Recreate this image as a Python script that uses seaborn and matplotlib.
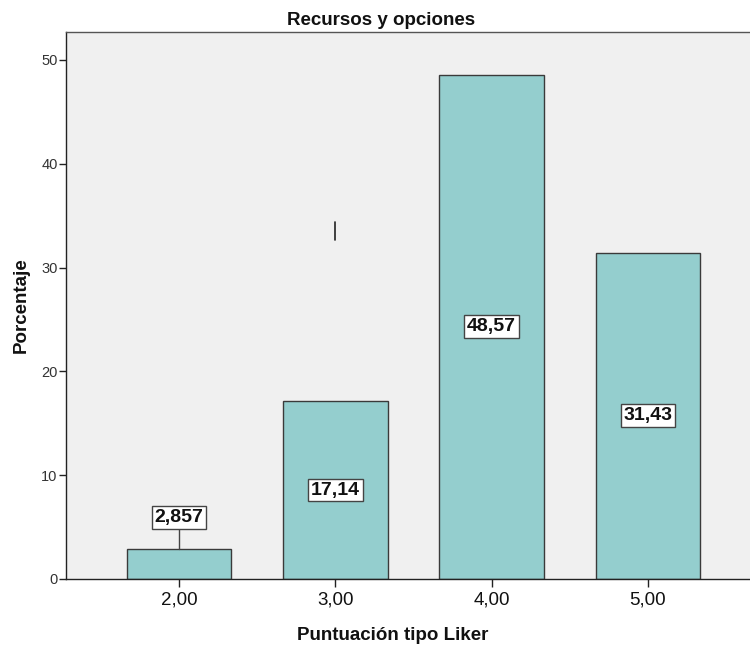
import matplotlib
matplotlib.use("Agg")
import matplotlib.pyplot as plt
import seaborn as sns
import pandas as pd

categories = ["2,00", "3,00", "4,00", "5,00"]
values = [2.857, 17.14, 48.57, 31.43]
value_labels = ["2,857", "17,14", "48,57", "31,43"]
y_ticks = [0, 10, 20, 30, 40, 50]
title = "Recursos y opciones"
x_title = "Puntuación tipo Liker"
y_title = "Porcentaje"

sns.set_theme(style="white")
plt.rcParams['font.family'] = ['Liberation Sans', 'DejaVu Sans']

df = pd.DataFrame({"cat": categories, "val": values})

fig = plt.figure(figsize=(7.5, 6.52), dpi=100)
ax = fig.add_axes([0.088, 0.112, 0.912, 0.839])
ax.set_facecolor("#f0f0f0")

sns.barplot(data=df, x="cat", y="val", order=categories, color="#94cece",
            edgecolor="#3a3a3a", linewidth=1.0, width=0.67, saturation=1, ax=ax)

ax.set_xlim(-0.723, 3.653)
ax.set_ylim(0, 52.7)
ax.set_yticks(y_ticks)
ax.set_yticklabels([str(t) for t in y_ticks], fontsize=10.5, color="#333333")
ax.tick_params(axis="y", length=5, width=1, color="#222222", direction="out", left=True, pad=1)
ax.tick_params(axis="x", length=6, width=1, color="#222222", direction="out", bottom=True, pad=3)
for lbl in ax.get_xticklabels():
    lbl.set_fontsize(13.5)
    lbl.set_color("#111111")

ax.spines["right"].set_visible(False)
for side in ["left", "bottom", "top"]:
    ax.spines[side].set_visible(True)
    ax.spines[side].set_color("#222222")
    ax.spines[side].set_linewidth(1.0)
ax.spines["top"].set_color("#555555")

ax.set_xlabel(x_title, fontsize=13.5, fontweight="bold", color="#111111", labelpad=10)
ax.xaxis.set_label_coords(0.478, -0.088)
ax.set_ylabel(y_title, fontsize=13.5, fontweight="bold", color="#111111", labelpad=8)
ax.set_title(title, fontsize=13.5, fontweight="bold", color="#111111", pad=5, x=0.4605)

box = dict(boxstyle="square,pad=0.15", facecolor="white", edgecolor="#444444", linewidth=1.0)
for i, (v, t) in enumerate(zip(values, value_labels)):
    if v < 5:
        ly = v + 3.06
        ax.plot([i, i], [v, ly], color="#444444", lw=1.0, zorder=3)
        ax.text(i, ly, t, ha="center", va="center", fontsize=14, fontweight="bold",
                color="#111111", bbox=box, zorder=4)
    else:
        ax.text(i, v / 2, t, ha="center", va="center", fontsize=14, fontweight="bold",
                color="#111111", bbox=box, zorder=4)

# small stray leader mark visible in the original above the 3,00 bar
stray_cat = 1
stray_range = [32.7, 34.4]
ax.plot([stray_cat, stray_cat], stray_range, color="#222222", lw=1.2, zorder=3)

fig.savefig("out.png", dpi=100)
